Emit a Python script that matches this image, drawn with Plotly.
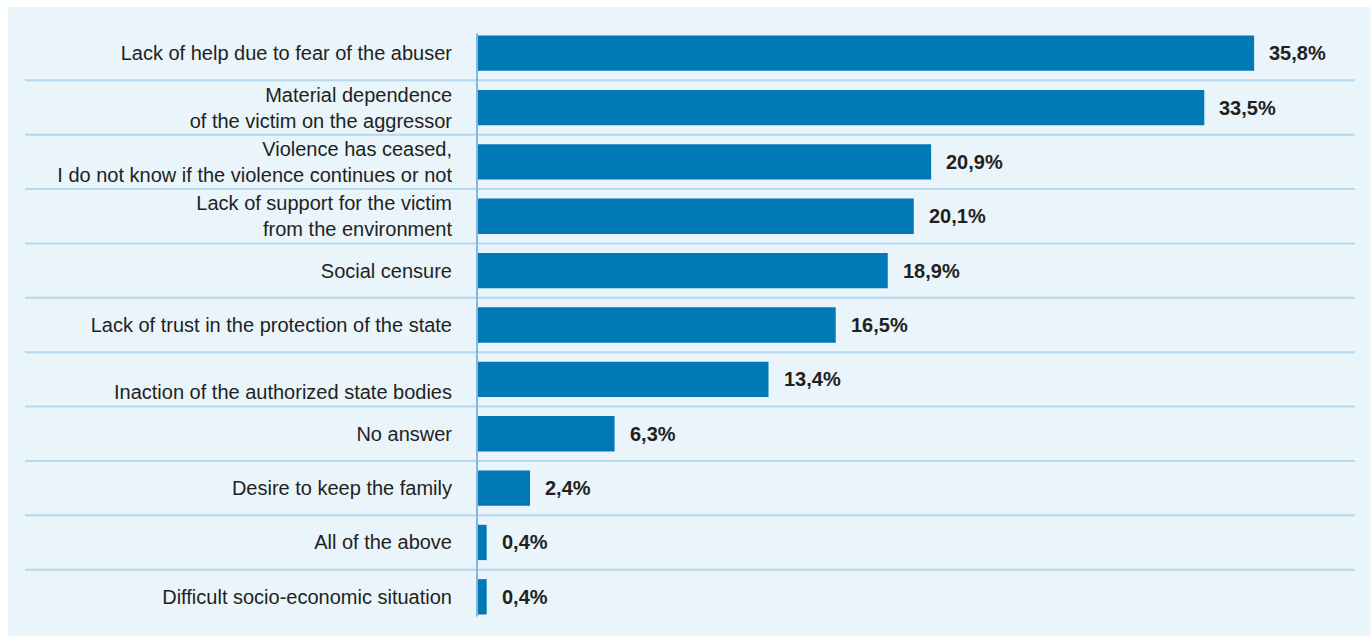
import plotly.graph_objects as go

categories = [
    "Lack of help due to fear of the abuser",
    "Material dependence<br>of the victim on the aggressor",
    "Violence has ceased,<br>I do not know if the violence continues or not",
    "Lack of support for the victim<br>from the environment",
    "Social censure",
    "Lack of trust in the protection of the state",
    " <br>Inaction of the authorized state bodies",
    "No answer",
    "Desire to keep the family",
    "All of the above",
    "Difficult socio-economic situation",
]
values = [35.8, 33.5, 20.9, 20.1, 18.9, 16.5, 13.4, 6.3, 2.4, 0.4, 0.4]
value_labels = ["35,8%", "33,5%", "20,9%", "20,1%", "18,9%", "16,5%", "13,4%", "6,3%", "2,4%", "0,4%", "0,4%"]

W, H = 1371, 639
ML, MR, MT, MB = 476, 16, 26, 15
pw = W - ML - MR
ph = H - MT - MB
SCALE = 21.68  # px per percent
X0 = -2 / SCALE

BAR = "#0079B6"
PANEL = "#EAF4FB"
SEP = "#B7D7EE"
AXIS = "#86B6DE"
TXT = "#231F20"
FONT = "Liberation Sans, Arial, sans-serif"

fig = go.Figure()
fig.add_trace(go.Bar(
    x=values, y=list(range(len(values))), orientation="h",
    marker=dict(color=BAR, line=dict(width=0)), width=0.65,
    hoverinfo="skip",
))

def px_x(p):
    return (p - ML) / pw
def px_y(p):
    return (H - MB - p) / ph

shapes = []
shapes.append(dict(type="rect", xref="paper", yref="paper",
                   x0=px_x(8), x1=px_x(1371), y0=px_y(636), y1=px_y(7),
                   fillcolor=PANEL, line=dict(width=0), layer="below"))
for i in range(len(values) - 1):
    shapes.append(dict(type="line", xref="paper", yref="y",
                       x0=px_x(25), x1=px_x(1355), y0=i + 0.5, y1=i + 0.5,
                       line=dict(color=SEP, width=2), layer="below"))
shapes.append(dict(type="line", xref="x", yref="y", x0=-1 / SCALE, x1=-1 / SCALE,
                   y0=-0.36, y1=len(values) - 1 + 0.36,
                   line=dict(color=AXIS, width=2), layer="above"))

annotations = []
for i, (v, t) in enumerate(zip(values, value_labels)):
    annotations.append(dict(x=v, y=i, xref="x", yref="y", text="<b>%s</b>" % t,
                            showarrow=False, xanchor="left", yanchor="middle",
                            xshift=13, font=dict(size=20, color=TXT, family=FONT)))

fig.update_layout(
    width=W, height=H,
    margin=dict(l=ML, r=MR, t=MT, b=MB),
    paper_bgcolor="white", plot_bgcolor="rgba(0,0,0,0)",
    showlegend=False,
    font=dict(family=FONT, size=20, color=TXT),
    xaxis=dict(range=[X0, X0 + pw / SCALE], showgrid=False, zeroline=False,
               showticklabels=False, showline=False, fixedrange=True),
    yaxis=dict(range=[len(values) - 0.5, -0.5], tickmode="array",
               tickvals=list(range(len(values))), ticktext=categories,
               showgrid=False, zeroline=False, showline=False,
               ticks="", ticklabelstandoff=23, fixedrange=True,
               tickfont=dict(size=20, color=TXT)),
    shapes=shapes, annotations=annotations,
)

fig.write_html("out.html", config={"displayModeBar": False},
               post_script="document.body.style.margin='0';document.body.style.overflow='hidden';")
